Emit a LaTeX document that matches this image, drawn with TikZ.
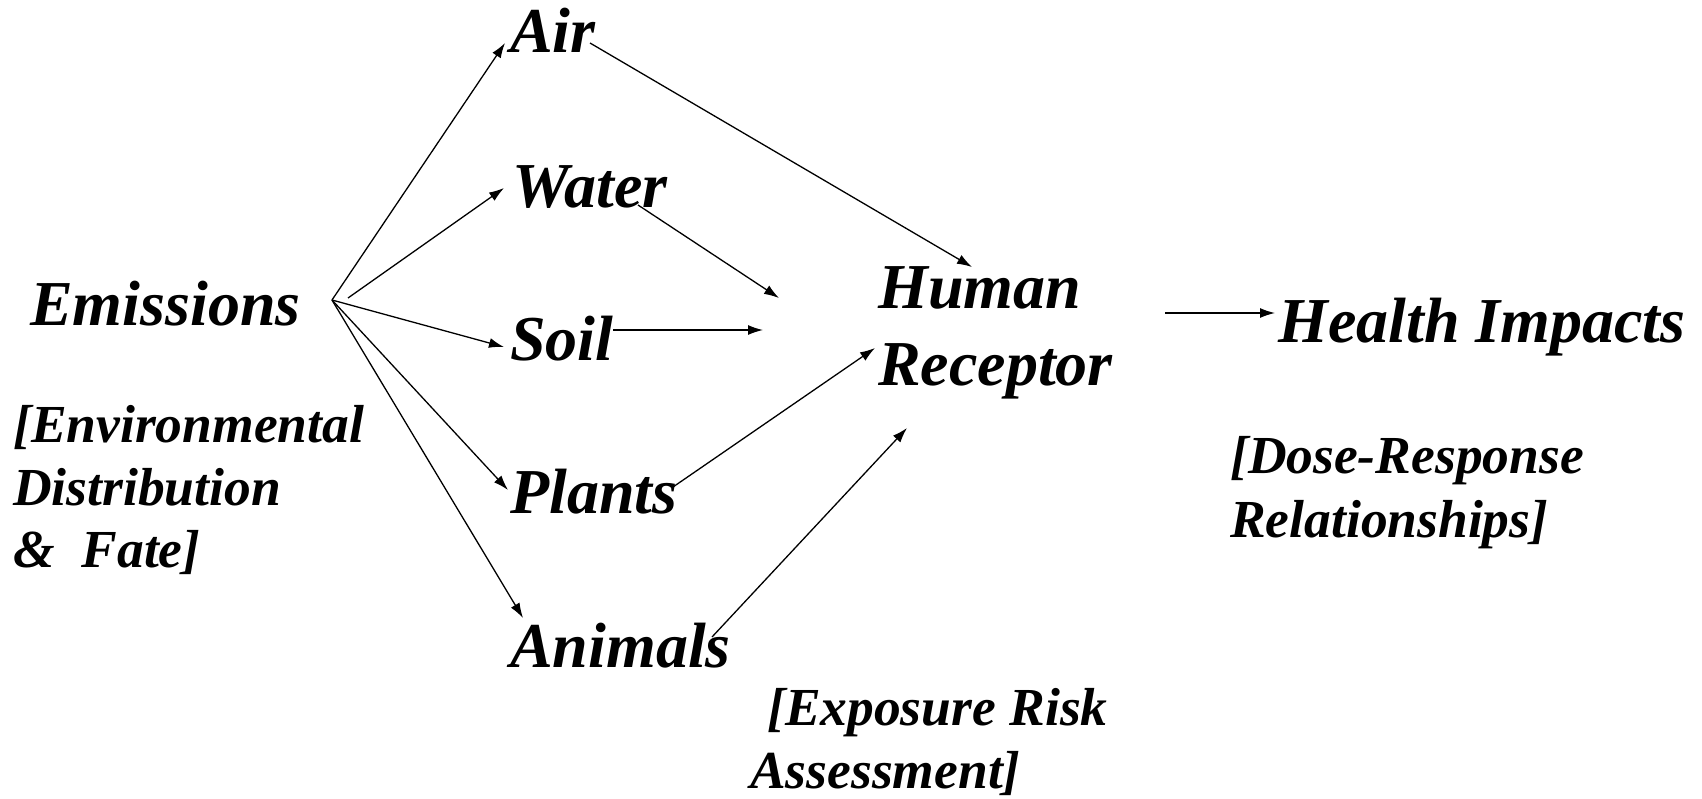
\documentclass[tikz,border=0pt]{standalone}
\usepackage{fontspec}
\setmainfont{Liberation Serif}
\usetikzlibrary{arrows.meta}
\tikzset{
  big/.style={inner sep=0pt, anchor=base west, font=\fontsize{64bp}{77bp}\selectfont\bfseries\itshape},
  small/.style={inner sep=0pt, anchor=base west, font=\fontsize{53.5bp}{63bp}\selectfont\bfseries\itshape},
  conn/.style={line width=1.3bp, -{Latex[length=15bp,width=10bp]}}
}
\begin{document}
\begin{tikzpicture}[x=1bp,y=-1bp]
\useasboundingbox (0,0) rectangle (1702,799);
% text nodes
\node[big] (emis) at (30,325) {Emissions};
\node[big] (air) at (510,53) {Air};
\node[big] (water) at (512,207) {Water};
\node[big] (soil) at (510,360) {Soil};
\node[big] (plants) at (510,513) {Plants};
\node[big] (animals) at (510,667) {Animals};
\node[big] (human) at (878,308) {Human};
\node[big] (receptor) at (878,385) {Receptor};
\node[big] (health) at (1278,342) {Health Impacts};
\node[small] (env1) at (13,442) {[Environmental};
\node[small] (env2) at (13,505) {Distribution};
\node[small] (env3) at (13,567) {\&\ \ Fate]};
\node[small] (dose1) at (1230,473) {[Dose-Response};
\node[small] (dose2) at (1230,537) {Relationships]};
\node[small] (exp1) at (767,725) {[Exposure Risk};
\node[small] (exp2) at (750,788) {Assessment]};
% connector end points
\coordinate (fan) at (332,300);
\coordinate (fanw) at (348,298);
\coordinate (airin) at (505,43);
\coordinate (waterin) at (504,188);
\coordinate (soilin) at (504,347);
\coordinate (plantsin) at (508,490);
\coordinate (animalsin) at (523,618);
\coordinate (airout) at (590,43);
\coordinate (waterout) at (638,205);
\coordinate (soilout) at (613,330);
\coordinate (plantsout) at (673,487);
\coordinate (animalsout) at (712,637);
\coordinate (hrA) at (972,267);
\coordinate (hrW) at (779,298);
\coordinate (hrS) at (763,330);
\coordinate (hrP) at (875,348);
\coordinate (hrN) at (907,428);
\coordinate (hout) at (1165,313);
\coordinate (hin) at (1275,313);
% connectors
\draw[conn] (fan) -- (airin);
\draw[conn] (fanw) -- (waterin);
\draw[conn] (fan) -- (soilin);
\draw[conn] (fan) -- (plantsin);
\draw[conn] (fan) -- (animalsin);
\draw[conn] (airout) -- (hrA);
\draw[conn] (waterout) -- (hrW);
\draw[conn] (soilout) -- (hrS);
\draw[conn] (plantsout) -- (hrP);
\draw[conn] (animalsout) -- (hrN);
\draw[conn] (hout) -- (hin);
\end{tikzpicture}
\end{document}
